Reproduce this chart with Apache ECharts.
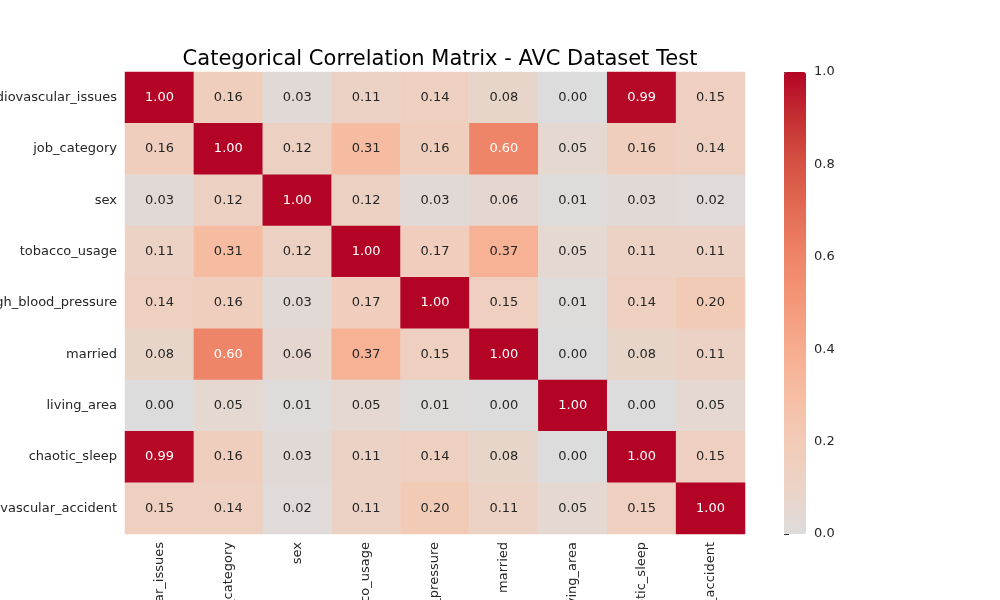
<!DOCTYPE html>
<html><head><meta charset="utf-8">
<script src="https://cdn.jsdelivr.net/npm/echarts@6/dist/echarts.min.js"></script>
<style>html,body{margin:0;background:#fff}#main{width:1000px;height:600px}</style>
</head><body><div id="main"></div>
<script>
// categories
const cats = ['cardiovascular_issues','job_category','sex','tobacco_usage','high_blood_pressure','married','living_area','chaotic_sleep','cerebrovascular_accident'];
// correlation rows (row i = y category i)
const r0 = [1.00,0.16,0.03,0.11,0.14,0.08,0.00,0.99,0.15];
const r1 = [0.16,1.00,0.12,0.31,0.16,0.60,0.05,0.16,0.14];
const r2 = [0.03,0.12,1.00,0.12,0.03,0.06,0.01,0.03,0.02];
const r3 = [0.11,0.31,0.12,1.00,0.17,0.37,0.05,0.11,0.11];
const r4 = [0.14,0.16,0.03,0.17,1.00,0.15,0.01,0.14,0.20];
const r5 = [0.08,0.60,0.06,0.37,0.15,1.00,0.00,0.08,0.11];
const r6 = [0.00,0.05,0.01,0.05,0.01,0.00,1.00,0.00,0.05];
const r7 = [0.99,0.16,0.03,0.11,0.14,0.08,0.00,1.00,0.15];
const r8 = [0.15,0.14,0.02,0.11,0.20,0.11,0.05,0.15,1.00];
const rows = [r0,r1,r2,r3,r4,r5,r6,r7,r8];

const data = [];
rows.forEach((row,i)=>row.forEach((v,j)=>{
  data.push({value:[j,i,v],label:{color:v>=0.5?'#fff':'#262626'}});
}));

const chart = echarts.init(document.getElementById('main'));
const font = 'DejaVu Sans';
chart.setOption({
  animation:false,
  textStyle:{fontFamily:font},
  title:{text:'Categorical Correlation Matrix - AVC Dataset Test',left:435,textAlign:'center',top:44,
    textStyle:{fontFamily:font,fontSize:21,fontWeight:'normal',color:'#000'}},
  grid:[{left:125,width:620,top:72,height:462,containLabel:false,outerBoundsMode:'none'},
        {left:784,width:22,top:72,height:462,containLabel:false,outerBoundsMode:'none'}],
  xAxis:[{type:'category',data:cats,gridIndex:0,position:'bottom',
      axisLabel:{rotate:90,fontSize:13,color:'#262626',fontFamily:font,margin:8},
      axisTick:{alignWithLabel:true,length:5,lineStyle:{color:'#333'}},axisLine:{show:false},splitArea:{show:false}},
    {type:'value',gridIndex:1,show:false}],
  yAxis:[{type:'category',data:cats,inverse:true,gridIndex:0,
      axisLabel:{fontSize:13,color:'#262626',fontFamily:font,margin:8},
      axisTick:{alignWithLabel:true,length:5,lineStyle:{color:'#333'}},axisLine:{show:false}},
    {type:'value',gridIndex:1,min:0,max:1,interval:0.2,position:'right',
      axisLabel:{fontSize:13,color:'#262626',fontFamily:font,formatter:v=>v.toFixed(1)},
      axisTick:{show:true,length:5,lineStyle:{color:'#333'}},axisLine:{show:false},splitLine:{show:false}}],
  visualMap:{type:'continuous',min:0,max:1,seriesIndex:0,left:784,top:72,itemWidth:22,itemHeight:462,padding:0,
    calculable:false,text:null,showLabel:false,itemSymbol:'rect',handleStyle:{opacity:0},indicatorStyle:{opacity:0},
    inRange:{color:['#dddcdc','#ebd3c6','#f2cbb7','#f6bea4','#f7ac8e','#f4987a','#ee8468','#e36c55','#d65244','#c43032','#b40426']}},
  series:[{type:'heatmap',xAxisIndex:0,yAxisIndex:0,data:data,
    label:{show:true,fontSize:13,fontFamily:font,formatter:p=>p.value[2].toFixed(2)},
    itemStyle:{borderWidth:0}}]
});
</script></body></html>
